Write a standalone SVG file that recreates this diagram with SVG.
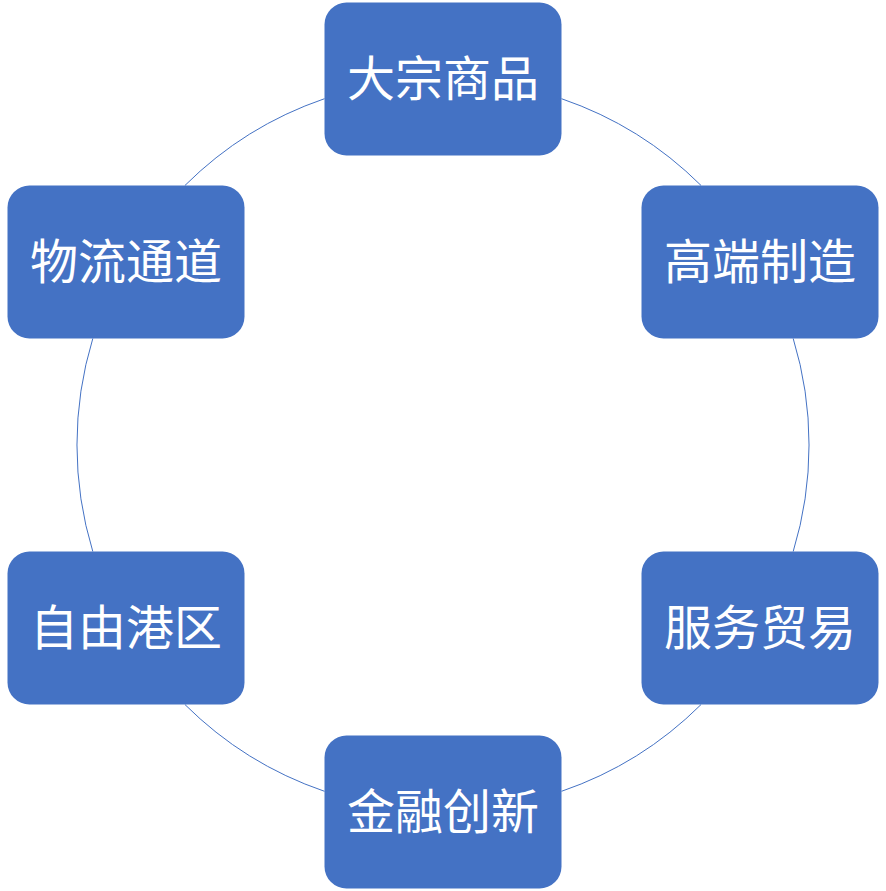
<svg xmlns="http://www.w3.org/2000/svg" width="886" height="891" viewBox="0 0 886 891">
<style>
.node rect{fill:#4472C4;}
.node text{fill:#FFFFFF;font-family:"Microsoft YaHei","Noto Sans CJK SC","Noto Sans",sans-serif;font-size:48px;text-anchor:middle;}
.conn path{fill:none;stroke:#4472C4;stroke-width:1;}
</style>
<rect width="886" height="891" fill="#FFFFFF"/>
<g id="connectors" class="conn">
<path d="M561.5,98.7 A366,366 0 0 1 701.1,185.5"/>
<path d="M793.2,338.5 A366,366 0 0 1 793.2,551.5"/>
<path d="M701.1,704.5 A366,366 0 0 1 561.5,791.3"/>
<path d="M324.5,791.3 A366,366 0 0 1 184.9,704.5"/>
<path d="M92.8,551.5 A366,366 0 0 1 92.8,338.5"/>
<path d="M184.9,185.5 A366,366 0 0 1 324.5,98.7"/>
</g>
<g id="node-dazong" class="node"><rect x="324.5" y="2.5" width="237" height="153" rx="22"/><text x="443" y="96">大宗商品</text></g>
<g id="node-gaoduan" class="node"><rect x="641.5" y="185.5" width="237" height="153" rx="22"/><text x="760" y="279">高端制造</text></g>
<g id="node-fuwu" class="node"><rect x="641.5" y="551.5" width="237" height="153" rx="22"/><text x="760" y="645">服务贸易</text></g>
<g id="node-jinrong" class="node"><rect x="324.5" y="735.5" width="237" height="153" rx="22"/><text x="443" y="829">金融创新</text></g>
<g id="node-ziyou" class="node"><rect x="7.5" y="551.5" width="237" height="153" rx="22"/><text x="126" y="645">自由港区</text></g>
<g id="node-wuliu" class="node"><rect x="7.5" y="185.5" width="237" height="153" rx="22"/><text x="126" y="279">物流通道</text></g>
</svg>
